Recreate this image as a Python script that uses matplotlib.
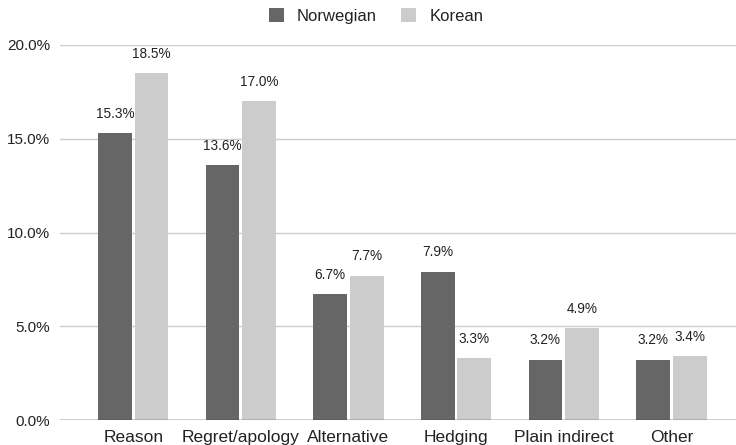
import numpy as np
import matplotlib.pyplot as plt

plt.rcParams['font.family'] = ['Liberation Sans', 'DejaVu Sans']

categories = ["Reason", "Regret/apology", "Alternative", "Hedging", "Plain indirect", "Other"]
norwegian = [15.3, 13.6, 6.7, 7.9, 3.2, 3.2]
korean = [18.5, 17.0, 7.7, 3.3, 4.9, 3.4]
yticks = [0, 5, 10, 15, 20]

fig = plt.figure(figsize=(7.36, 4.45), dpi=100)
ax = fig.add_axes([60/736, 25/445, 676/736, 375/445])

x = np.arange(len(categories))
w = 0.315
off = 0.17
b1 = ax.bar(x - off, norwegian, w, color="#666666", label="Norwegian", zorder=3)
b2 = ax.bar(x + off, korean, w, color="#cccccc", label="Korean", zorder=3)

for bars, vals in ((b1, norwegian), (b2, korean)):
    for r, v in zip(bars, vals):
        ax.annotate("%.1f%%" % v, (r.get_x() + r.get_width()/2, v),
                    xytext=(0, 9), textcoords="offset points",
                    ha="center", va="bottom", fontsize=9.8, color="#222222")

ax.set_ylim(0, 20)
ax.set_xlim(-0.68, 5.6)
ax.set_yticks(yticks)
ax.set_yticklabels(["%.1f%%" % t for t in yticks])
ax.set_xticks(x)
ax.set_xticklabels(categories)
ax.tick_params(axis="both", length=0, colors="#222222")
ax.tick_params(axis="y", pad=7, labelsize=11)
ax.tick_params(axis="x", pad=7, labelsize=12.5)
ax.grid(axis="y", color="#cccccc", linewidth=1, zorder=0)
for s in ax.spines.values():
    s.set_visible(False)
ax.axhline(0, color="#333333", linewidth=1, zorder=4)

fig.legend(loc="upper center", bbox_to_anchor=(0.511, 1.015), ncol=2, frameon=False,
           fontsize=12, handlelength=0.9, handleheight=0.9, handletextpad=0.8,
           columnspacing=1.45, labelcolor="#222222")

fig.savefig("out.png", dpi=100)
